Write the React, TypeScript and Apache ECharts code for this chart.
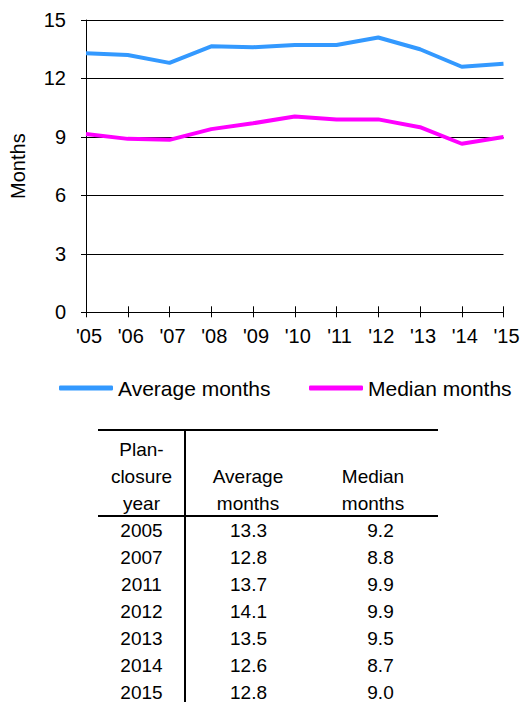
import React, { useEffect, useRef } from "react";
import * as echarts from "echarts";

const years = ["'05", "'06", "'07", "'08", "'09", "'10", "'11", "'12", "'13", "'14", "'15"];
const avgMonths = [13.3, 13.2, 12.8, 13.65, 13.6, 13.72, 13.72, 14.1, 13.5, 12.6, 12.75];
const medMonths = [9.15, 8.9, 8.85, 9.4, 9.7, 10.05, 9.9, 9.9, 9.5, 8.65, 9.0];
const yTicks = { min: 0, max: 15, interval: 3 };

const tableHeader = [
  ["Plan-", "closure", "year"],
  ["", "Average", "months"],
  ["", "Median", "months"],
];
const tableYears = ["2005", "2007", "2011", "2012", "2013", "2014", "2015"];
const tableAvg = ["13.3", "12.8", "13.7", "14.1", "13.5", "12.6", "12.8"];
const tableMed = ["9.2", "8.8", "9.9", "9.9", "9.5", "8.7", "9.0"];

const FONT = '"Liberation Sans", Arial, sans-serif';
const BLUE = "#3399FF";
const MAGENTA = "#FF00FF";

export default function App() {
  const ref = useRef<HTMLDivElement>(null);
  useEffect(() => {
    document.body.style.margin = "0";
    const chart = echarts.init(ref.current!, null, { renderer: "svg" });

    const graphics: any[] = [];
    const tLeft = 98;
    const tRight = 438;
    const tTop = 430;
    const headBottom = 516;
    const vX = 185;
    graphics.push({ type: "line", shape: { x1: tLeft, y1: tTop, x2: tRight, y2: tTop }, style: { stroke: "#000", lineWidth: 2 } });
    graphics.push({ type: "line", shape: { x1: tLeft, y1: headBottom, x2: tRight, y2: headBottom }, style: { stroke: "#000", lineWidth: 2 } });
    graphics.push({ type: "line", shape: { x1: vX, y1: tTop, x2: vX, y2: 702 }, style: { stroke: "#000", lineWidth: 2 } });

    const headCols = [141.5, 248, 373];
    const valCols = [141.5, 248.5, 380.5];
    const headYs = [449.5, 476.5, 503];
    const txt = (s: string, x: number, y: number) => ({
      type: "text",
      x,
      y,
      style: {
        text: s,
        fill: "#000",
        fontSize: 19,
        fontFamily: FONT,
        align: "center",
        verticalAlign: "middle",
        textAlign: "center",
        textVerticalAlign: "middle",
      },
    });
    tableHeader.forEach((col, ci) => {
      col.forEach((s, li) => {
        if (s) graphics.push(txt(s, headCols[ci], headYs[li]));
      });
    });
    const rowY0 = 530.7;
    const rowStep = 26.9;
    tableYears.forEach((y, i) => {
      const yy = rowY0 + i * rowStep;
      graphics.push(txt(y, valCols[0], yy));
      graphics.push(txt(tableAvg[i], valCols[1], yy));
      graphics.push(txt(tableMed[i], valCols[2], yy));
    });

    const legendBase = {
      itemWidth: 54,
      itemHeight: 5,
      icon: "roundRect",
      padding: 0,
      top: 377.5,
      textStyle: { fontSize: 21, color: "#000", fontFamily: FONT },
    };

    chart.setOption({
      animation: false,
      textStyle: { fontFamily: FONT },
      grid: { left: 82, right: 24.5, top: 20, bottom: 389.7, containLabel: false },
      legend: [
        { ...legendBase, left: 59, data: ["Average months"] },
        { ...legendBase, left: 309, data: ["Median months"] },
      ],
      xAxis: [
        {
          type: "category",
          data: years,
          boundaryGap: false,
          position: "bottom",
          axisLine: { show: true, lineStyle: { color: "#000", width: 1 } },
          axisTick: { show: true, inside: false, length: 5, lineStyle: { color: "#000", width: 1 } },
          axisLabel: { color: "#000", fontSize: 20, fontFamily: FONT, margin: 14, padding: [0, 0, 0, 6], interval: 0 },
          splitLine: { show: false },
        },
        {
          type: "category",
          data: years,
          boundaryGap: false,
          position: "bottom",
          axisLine: { show: false },
          axisTick: { show: true, inside: true, length: 6, lineStyle: { color: "#000", width: 1 } },
          axisLabel: { show: false },
          splitLine: { show: false },
        },
      ],
      yAxis: {
        type: "value",
        min: yTicks.min,
        max: yTicks.max,
        interval: yTicks.interval,
        name: "Months",
        nameLocation: "middle",
        nameRotate: 90,
        nameGap: 58,
        nameTextStyle: { color: "#000", fontSize: 20, fontFamily: FONT },
        axisLine: { show: true, lineStyle: { color: "#000", width: 1 } },
        axisTick: { show: true, inside: false, length: 5, lineStyle: { color: "#000", width: 1 } },
        axisLabel: { color: "#000", fontSize: 20, fontFamily: FONT, margin: 20 },
        splitLine: { show: true, lineStyle: { color: "#000", width: 1 } },
      },
      series: [
        {
          name: "Average months",
          type: "line",
          data: avgMonths,
          xAxisIndex: 0,
          showSymbol: false,
          symbol: "none",
          lineStyle: { color: BLUE, width: 4 },
          itemStyle: { color: BLUE },
        },
        {
          name: "Median months",
          type: "line",
          data: medMonths,
          xAxisIndex: 0,
          showSymbol: false,
          symbol: "none",
          lineStyle: { color: MAGENTA, width: 4 },
          itemStyle: { color: MAGENTA },
        },
      ],
      graphic: graphics,
    });
    return () => chart.dispose();
  }, []);
  return <div ref={ref} style={{ width: 528, height: 702 }} />;
}
